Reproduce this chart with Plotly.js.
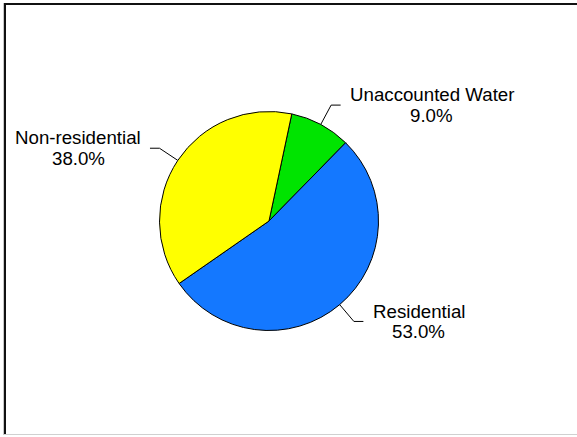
<!DOCTYPE html>
<html>
<head>
<meta charset="utf-8">
<script src="https://cdn.plot.ly/plotly-3.0.1.min.js"></script>
<style>html,body{margin:0;padding:0;background:#fff}#chart{width:577px;height:437px}</style>
</head>
<body>
<div id="chart"></div>
<script>
// Data
var categories = ["Unaccounted Water", "Residential", "Non-residential"];
var shares = [9.0, 53.0, 38.0];
var sliceColors = ["#00E400", "#1478FF", "#FFFF00"];

var W = 577, H = 437;
var cx = 269, cy = 221, R = 109.5;
var rotationDeg = 12;
var FS = 18.7;
var FAMILY = "Liberation Sans, Arial, sans-serif";

var total = shares.reduce(function(a, b){ return a + b; }, 0);
var shapes = [];
var annotations = [];
var fontSpec = {family: FAMILY, size: FS, color: "#000"};
function px(x){ return x / W; }
function py(y){ return 1 - y / H; }

var ctx = document.createElement("canvas").getContext("2d");
ctx.font = FS + "px 'Liberation Sans', Arial, sans-serif";
function tw(s){ return ctx.measureText(s).width; }

var cum = 0;
for (var i = 0; i < shares.length; i++) {
  var mid = rotationDeg + (cum + shares[i] / 2) / total * 360;
  cum += shares[i];
  var a = mid * Math.PI / 180;
  var sx = Math.sin(a), sy = -Math.cos(a);
  var x0 = cx + R * sx, y0 = cy + R * sy;
  var x1 = cx + (R + 22) * sx, y1 = cy + (R + 22) * sy;
  var dir = sx >= 0 ? 1 : -1;
  var x2 = x1 + dir * 9.5;
  shapes.push({type: "path", xref: "paper", yref: "paper",
    path: "M" + px(x0) + "," + py(y0) + " L" + px(x1) + "," + py(y1) + " L" + px(x2) + "," + py(y1),
    line: {color: "#000", width: 1}});
  var l1 = categories[i], l2 = shares[i].toFixed(1) + "%";
  var bw = Math.max(tw(l1), tw(l2));
  var xc = x2 + dir * (9 + bw / 2);
  annotations.push({xref: "paper", yref: "paper", x: px(xc), y: py(y1 - 10.3),
    xanchor: "center", yanchor: "middle", showarrow: false, text: l1, font: fontSpec});
  annotations.push({xref: "paper", yref: "paper", x: px(xc), y: py(y1 + 10.3),
    xanchor: "center", yanchor: "middle", showarrow: false, text: l2, font: fontSpec});
}

// Frame
shapes.push({type: "line", xref: "paper", yref: "paper", x0: px(3.5), x1: px(3.5), y0: py(3), y1: py(435), line: {color: "#C8C8C8", width: 1}});
shapes.push({type: "line", xref: "paper", yref: "paper", x0: px(5), x1: px(5), y0: py(3.5), y1: py(434), line: {color: "#111", width: 2}});
shapes.push({type: "line", xref: "paper", yref: "paper", x0: px(4), x1: px(577), y0: py(4), y1: py(4), line: {color: "#111", width: 2}});
shapes.push({type: "line", xref: "paper", yref: "paper", x0: px(4), x1: px(577), y0: py(434.5), y1: py(434.5), line: {color: "#D0D0D0", width: 1}});

var trace = {
  type: "pie",
  labels: categories,
  values: shares,
  sort: false,
  direction: "clockwise",
  rotation: rotationDeg,
  textinfo: "none",
  hoverinfo: "label+percent",
  marker: {colors: sliceColors, line: {color: "#000", width: 1}},
  domain: {x: [px(cx - R), px(cx + R)], y: [py(cy + R), py(cy - R)]},
  showlegend: false
};

var layout = {
  width: W, height: H,
  margin: {l: 0, r: 0, t: 0, b: 0},
  paper_bgcolor: "#fff",
  showlegend: false,
  shapes: shapes,
  annotations: annotations,
  font: fontSpec
};
Plotly.newPlot("chart", [trace], layout, {staticPlot: true, displayModeBar: false});
</script>
</body>
</html>
